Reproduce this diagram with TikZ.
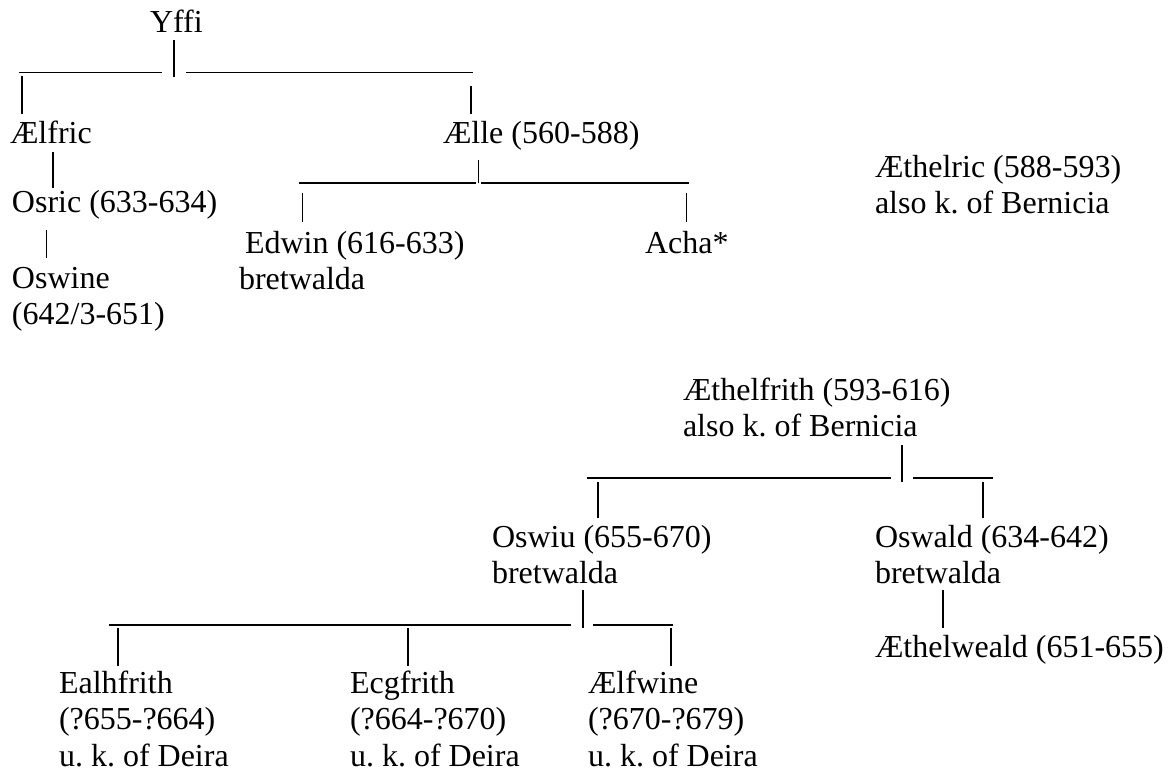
\documentclass[tikz,border=0pt]{standalone}
\usepackage{fontspec}
\setmainfont{Liberation Serif}
\frenchspacing
\begin{document}
\begin{tikzpicture}[x=1pt,y=-1pt,
  person/.style={font=\fontsize{32}{36.5}\selectfont, inner sep=0pt, outer sep=0pt, anchor=base west, align=left},
  heavybar/.style={line width=2.8pt},
  rulebar/.style={line width=1.4pt},
  thinbar/.style={line width=1pt}]
\useasboundingbox (0,0) rectangle (1169,772);

% ---- people (anchor = baseline of the last line) ----
\node[person] (yffi) at (150,32) {Yffi};
\node[person] (aelfric) at (10,143) {Ælfric};
\node[person] (aelle) at (443,143) {Ælle (560-588)};
\node[person] (osric) at (12,212) {Osric (633-634)};
\node[person] (oswine) at (12,324.5) {Oswine\\(642/3-651)};
\node[person] (edwin) at (239,289.5) {\hspace{6pt}Edwin (616-633)\\bretwalda};
\node[person] (acha) at (645,253) {Acha*};
\node[person] (aethelric) at (875,213.5) {Æthelric (588-593)\\also k. of Bernicia};
\node[person] (aethelfrith) at (683,436.5) {Æthelfrith (593-616)\\also k. of Bernicia};
\node[person] (oswiu) at (492,583.5) {Oswiu (655-670)\\bretwalda};
\node[person] (oswald) at (875,583.5) {Oswald (634-642)\\bretwalda};
\node[person] (aethelweald) at (875,657) {Æthelweald (651-655)};
\node[person] (ealhfrith) at (59,766) {Ealhfrith\\(?655-?664)\\u. k. of Deira};
\node[person] (ecgfrith) at (350,766) {Ecgfrith\\(?664-?670)\\u. k. of Deira};
\node[person] (aelfwine) at (588,766) {Ælfwine\\(?670-?679)\\u. k. of Deira};

% ---- Yffi's branch ----
\coordinate (y1) at (174,40);  \coordinate (y2) at (174,77);
\coordinate (yl1) at (19,72.7); \coordinate (yl2) at (162,72.7);
\coordinate (yr1) at (186,72.7); \coordinate (yr2) at (473,72.7);
\coordinate (ya1) at (22,76);  \coordinate (ya2) at (22,114);
\coordinate (yb1) at (471,86); \coordinate (yb2) at (471,114);
\draw[heavybar] (y1) -- (y2);
\draw[rulebar] (yl1) -- (yl2);
\draw[rulebar] (yr1) -- (yr2);
\draw[heavybar] (ya1) -- (ya2);
\draw[heavybar] (yb1) -- (yb2);

% ---- Aelfric -> Osric -> Oswine ----
\coordinate (af1) at (53,152); \coordinate (af2) at (53,188);
\draw[heavybar] (af1) -- (af2);
\coordinate (os1) at (46,230); \coordinate (os2) at (46,258);
\draw[thinbar] (os1) -- (os2);

% ---- Aelle's children ----
\coordinate (ae1) at (478,160); \coordinate (ae2) at (478,183);
\coordinate (al1) at (299,183); \coordinate (al2) at (476,183);
\coordinate (ar1) at (481,183); \coordinate (ar2) at (689,183);
\coordinate (ed1) at (302,193); \coordinate (ed2) at (302,222);
\coordinate (ac1) at (686,193); \coordinate (ac2) at (686,222);
\draw[thinbar] (ae1) -- (ae2);
\draw[rulebar] (al1) -- (al2);
\draw[rulebar] (ar1) -- (ar2);
\draw[thinbar] (ed1) -- (ed2);
\draw[thinbar] (ac1) -- (ac2);

% ---- Aethelfrith's children ----
\coordinate (fr1) at (902,445); \coordinate (fr2) at (902,482);
\coordinate (fl1) at (587,478); \coordinate (fl2) at (891,478);
\coordinate (fm1) at (913,478); \coordinate (fm2) at (993,478);
\coordinate (fo1) at (598,482); \coordinate (fo2) at (598,518);
\coordinate (fw1) at (983,482); \coordinate (fw2) at (983,518);
\draw[heavybar] (fr1) -- (fr2);
\draw[rulebar] (fl1) -- (fl2);
\draw[rulebar] (fm1) -- (fm2);
\draw[heavybar] (fo1) -- (fo2);
\draw[heavybar] (fw1) -- (fw2);

% ---- Oswald -> Aethelweald ----
\coordinate (od1) at (943,590); \coordinate (od2) at (943,628);
\draw[heavybar] (od1) -- (od2);

% ---- Oswiu's children ----
\coordinate (ow1) at (583,590); \coordinate (ow2) at (583,628);
\coordinate (wl1) at (109,625); \coordinate (wl2) at (571,625);
\coordinate (wr1) at (593,625); \coordinate (wr2) at (673,625);
\coordinate (ea1) at (118,628); \coordinate (ea2) at (118,666);
\coordinate (ec1) at (408,628); \coordinate (ec2) at (408,666);
\coordinate (aw1) at (671,628); \coordinate (aw2) at (671,666);
\draw[heavybar] (ow1) -- (ow2);
\draw[rulebar] (wl1) -- (wl2);
\draw[rulebar] (wr1) -- (wr2);
\draw[heavybar] (ea1) -- (ea2);
\draw[heavybar] (ec1) -- (ec2);
\draw[heavybar] (aw1) -- (aw2);
\end{tikzpicture}
\end{document}
